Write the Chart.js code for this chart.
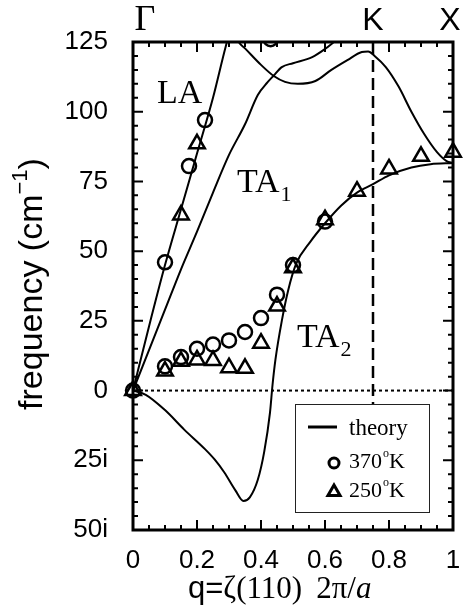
<!DOCTYPE html>
<html>
<head>
<meta charset="utf-8">
<script src="https://cdn.jsdelivr.net/npm/chart.js@4.4.1/dist/chart.umd.min.js"></script>
<style>
  html, body { margin: 0; padding: 0; background: #fff; }
  #wrap { width: 465px; height: 612px; position: relative; }
</style>
</head>
<body>
<div id="wrap"><canvas id="phonon"></canvas></div>
<script>
// theory branches along Gamma-K-X; imaginary frequencies are stored as negative values
const laQ    = [0, 0.05, 0.1, 0.15, 0.2, 0.25, 0.29, 0.3, 0.31, 0.32, 0.33, 0.35, 0.4, 0.44, 0.475, 0.515, 0.57, 0.62, 0.67, 0.715, 0.735, 0.755, 0.79, 0.83, 0.87, 0.91, 0.95, 0.98, 1.0];
const laFreq = [0, 23, 45, 65, 85, 105, 123.5, 127.5, 128.5, 127.3, 125, 122.7, 116.8, 112.8, 110.7, 110, 111, 115, 118.5, 121.4, 121.6, 120, 116, 109, 100, 92, 85.5, 82.3, 81.6];

const ta1Q    = [0, 0.05, 0.1, 0.15, 0.2, 0.25, 0.3, 0.35, 0.39, 0.42, 0.44, 0.465, 0.5, 0.56, 0.6, 0.63, 0.66];
const ta1Freq = [0, 14.5, 29, 43.5, 57, 71, 84.5, 95.5, 106, 110.5, 113, 116, 117.4, 119.6, 122.5, 125.2, 128];

const ta2Q    = [0, 0.04, 0.1, 0.16, 0.225, 0.255, 0.285, 0.32, 0.345, 0.365, 0.39, 0.41, 0.428, 0.436, 0.445, 0.465, 0.485, 0.51, 0.555, 0.6, 0.65, 0.7, 0.75, 0.8, 0.87, 0.93, 1.0];
const ta2Freq = [0, -1.5, -7, -14, -21, -24.7, -29.3, -35.8, -39.6, -38.3, -32, -22, -8, 2, 11, 25, 36, 45.5, 53.5, 60, 66.3, 71, 74, 77.2, 80, 81.2, 81.6];

// measured points
const q370    = [0, 0.1, 0.175, 0.225, 0.43, 0.1, 0.15, 0.2, 0.25, 0.3, 0.35, 0.4, 0.45, 0.5, 0.6];
const freq370 = [0, 46, 80.5, 97, 126, 8.7, 12, 15, 16.5, 18, 21, 26, 34.4, 45, 60.6];

const q250    = [0, 0.15, 0.2, 0.1, 0.15, 0.2, 0.25, 0.3, 0.35, 0.4, 0.45, 0.5, 0.6, 0.7, 0.8, 0.9, 1.0];
const freq250 = [0, 63, 88.5, 7, 10.5, 11, 10.8, 8.2, 8, 17, 30.3, 44, 61.3, 71.5, 79.5, 84, 85.5];

const kPoint = 0.75;
const yTicks = [-50, 125];

const SANS = "'Liberation Sans', Arial, sans-serif";
const SERIF = "'Liberation Serif', 'Times New Roman', serif";

function pts(xs, ys) {
    return xs.map((x, i) => ({ x: x, y: ys[i] }));
}

function curve(xs, ys) {
    return {
        type: "line",
        data: pts(xs, ys),
        borderColor: "#000",
        borderWidth: 2,
        pointRadius: 0,
        fill: false,
        cubicInterpolationMode: "monotone"
    };
}

// branch name with a subscript right after it
function branchLabel(ctx, text, sub, x, y) {
    ctx.font = "34px " + SERIF;
    ctx.fillText(text, x, y);
    const w = ctx.measureText(text).width;
    ctx.font = "22px " + SERIF;
    ctx.fillText(sub, x + w + 1, y + 9);
}

// frame, inside ticks, labels and the legend box
const decorations = {
    id: "decorations",
    afterDraw(chart) {
        const ctx = chart.ctx;
        const a = chart.chartArea;
        const xs = chart.scales.x;
        const ys = chart.scales.y;
        ctx.save();

        // legend
        const lx = 295, ly = 404, lw = 134, lh = 108;
        ctx.fillStyle = "#fff";
        ctx.fillRect(lx, ly, lw, lh);
        ctx.strokeStyle = "#222";
        ctx.lineWidth = 1;
        ctx.strokeRect(lx + 0.5, ly + 0.5, lw, lh);

        ctx.strokeStyle = "#000";
        ctx.lineWidth = 3;
        ctx.beginPath();
        ctx.moveTo(308, 427);
        ctx.lineTo(337, 427);
        ctx.stroke();

        ctx.beginPath();
        ctx.arc(334, 463, 5, 0, Math.PI * 2);
        ctx.stroke();

        ctx.beginPath();
        const tr = 7;
        ctx.moveTo(334, 492 - tr);
        ctx.lineTo(334 + tr * 0.866, 492 + tr * 0.5);
        ctx.lineTo(334 - tr * 0.866, 492 + tr * 0.5);
        ctx.closePath();
        ctx.stroke();

        ctx.fillStyle = "#000";
        ctx.textAlign = "left";
        ctx.textBaseline = "alphabetic";
        ctx.font = "23px " + SERIF;
        ctx.fillText("theory", 349, 435);
        [["370", 468], ["250", 497]].forEach(([t, y]) => {
            ctx.font = "22px " + SERIF;
            ctx.fillText(t, 349, y);
            let w = ctx.measureText(t).width;
            ctx.font = "12px " + SERIF;
            ctx.fillText("o", 349 + w + 1, y - 11);
            ctx.font = "22px " + SERIF;
            ctx.fillText("K", 349 + w + 7, y);
        });

        // ticks on all four sides
        ctx.strokeStyle = "#000";
        ctx.lineWidth = 2;
        ctx.beginPath();
        for (let i = 0; i <= 20; i++) {
            const px = xs.getPixelForValue(i * 0.05);
            const len = (i % 4 === 0) ? 10 : 5;
            ctx.moveTo(px, a.bottom);
            ctx.lineTo(px, a.bottom - len);
            ctx.moveTo(px, a.top);
            ctx.lineTo(px, a.top + len);
        }
        for (let v = yTicks[0]; v <= yTicks[1]; v += 5) {
            const py = ys.getPixelForValue(v);
            const len = (v % 25 === 0) ? 10 : 5;
            ctx.moveTo(a.left, py);
            ctx.lineTo(a.left + len, py);
            ctx.moveTo(a.right, py);
            ctx.lineTo(a.right - len, py);
        }
        ctx.stroke();

        ctx.lineWidth = 3;
        ctx.strokeRect(a.left, a.top, a.right - a.left, a.bottom - a.top);

        // symmetry points
        ctx.textAlign = "center";
        ctx.font = "36px " + SERIF;
        ctx.fillText("Γ", 145, 30);
        ctx.font = "32px " + SANS;
        ctx.fillText("K", xs.getPixelForValue(kPoint), 30);
        ctx.fillText("X", 450, 30);

        // branch names
        ctx.textAlign = "left";
        ctx.font = "34px " + SERIF;
        ctx.fillText("LA", 157, 103);
        branchLabel(ctx, "TA", "1", 237, 192);
        branchLabel(ctx, "TA", "2", 297, 347);

        // x title
        let x = 188;
        ctx.font = "31px " + SANS;
        ctx.fillText("q=", x, 598);
        x += ctx.measureText("q=").width;
        ctx.font = "31px " + SERIF;
        ctx.fillText("ζ(110)", x, 598);
        x += ctx.measureText("ζ(110)").width + 14;
        ctx.fillText("2π/", x, 598);
        x += ctx.measureText("2π/").width;
        ctx.font = "italic 31px " + SERIF;
        ctx.fillText("a", x, 598);

        // y title
        ctx.translate(42, 284);
        ctx.rotate(-Math.PI / 2);
        const main = "frequency (cm";
        ctx.font = "34px " + SANS;
        const wMain = ctx.measureText(main).width;
        ctx.font = "22px " + SANS;
        const wSup = ctx.measureText("−1").width;
        ctx.font = "34px " + SANS;
        const wEnd = ctx.measureText(")").width;
        let sx = -(wMain + wSup + wEnd) / 2;
        ctx.fillText(main, sx, 0);
        sx += wMain;
        ctx.font = "22px " + SANS;
        ctx.fillText("−1", sx, -15);
        sx += wSup;
        ctx.font = "34px " + SANS;
        ctx.fillText(")", sx, 0);

        ctx.restore();
    }
};

new Chart(document.getElementById("phonon"), {
    type: "scatter",
    data: {
        datasets: [
            {
                label: "370°K",
                data: pts(q370, freq370),
                pointStyle: "circle",
                pointRadius: 7,
                borderWidth: 2.5,
                borderColor: "#000",
                backgroundColor: "rgba(0,0,0,0)",
                clip: { left: false, top: 0, right: false, bottom: false }
            },
            {
                label: "250°K",
                data: pts(q250, freq250),
                pointStyle: "triangle",
                pointRadius: 9,
                borderWidth: 2.5,
                borderColor: "#000",
                backgroundColor: "rgba(0,0,0,0)",
                clip: false
            },
            curve(laQ, laFreq),
            curve(ta1Q, ta1Freq),
            curve(ta2Q, ta2Freq),
            {
                type: "line",
                data: [{ x: kPoint, y: 125 }, { x: kPoint, y: -5 }],
                borderColor: "#000",
                borderWidth: 2.5,
                borderDash: [12, 6],
                pointRadius: 0
            },
            {
                type: "line",
                data: [{ x: 0, y: 0 }, { x: 1, y: 0 }],
                borderColor: "#000",
                borderWidth: 2,
                borderDash: [3, 3],
                pointRadius: 0
            }
        ]
    },
    options: {
        responsive: true,
        maintainAspectRatio: false,
        animation: false,
        events: [],
        layout: { padding: { top: 42, right: 12, left: 0, bottom: 0 } },
        plugins: { legend: { display: false }, tooltip: { enabled: false } },
        scales: {
            x: {
                type: "linear",
                min: 0,
                max: 1,
                grid: { display: false },
                border: { display: false },
                ticks: {
                    stepSize: 0.2,
                    padding: 7,
                    color: "#000",
                    font: { family: SANS, size: 26 },
                    callback: v => String(Math.round(v * 10) / 10)
                },
                afterFit: s => { s.height = 82; s.paddingLeft = 0; s.paddingRight = 0; }
            },
            y: {
                type: "linear",
                min: yTicks[0],
                max: yTicks[1],
                grid: { display: false },
                border: { display: false },
                ticks: {
                    stepSize: 25,
                    padding: 17,
                    color: "#000",
                    font: { family: SANS, size: 26 },
                    callback: v => v < 0 ? (-v) + "i" : String(v)
                },
                afterFit: s => { s.width = 133; s.paddingTop = 0; s.paddingBottom = 0; }
            }
        }
    },
    plugins: [decorations]
});
</script>
</body>
</html>
